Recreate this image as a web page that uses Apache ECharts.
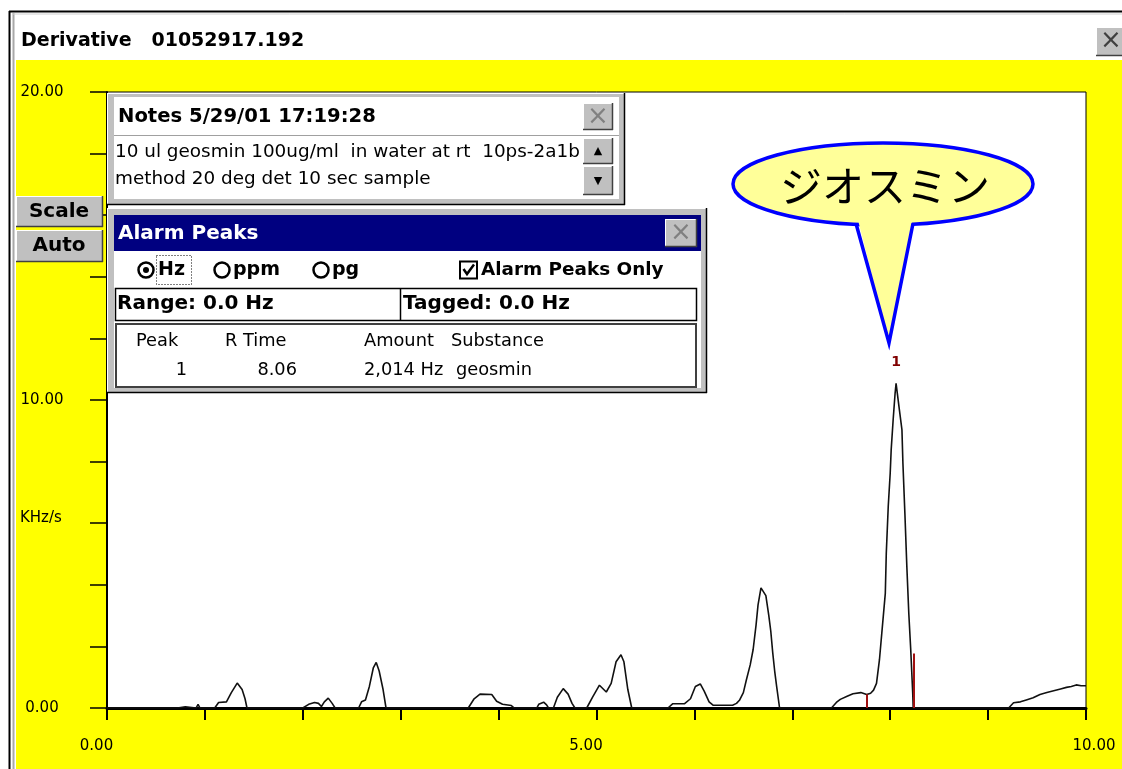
<!DOCTYPE html>
<html>
<head>
<meta charset="utf-8">
<script src="https://cdn.jsdelivr.net/npm/echarts@6/dist/echarts.min.js"></script>
<style>
  html, body { margin: 0; padding: 0; background: #fff; }
  #chart { width: 1122px; height: 769px; }
</style>
</head>
<body>
<div id="chart"></div>
<script>
// retention time (min) of each trace point
const rtime = [
  0, 0.72, 0.73, 0.80, 0.81, 0.91, 0.93, 0.95,
  1.10, 1.14, 1.22, 1.27, 1.33, 1.38, 1.41, 1.43,
  1.73, 1.74, 1.75,
  2.00, 2.06, 2.12, 2.16, 2.19, 2.22, 2.26, 2.30, 2.33,
  2.57, 2.60, 2.64, 2.68, 2.72, 2.75, 2.78, 2.82, 2.85,
  3.69, 3.75, 3.81, 3.93, 3.98, 4.04, 4.13, 4.16,
  4.39, 4.41, 4.46, 4.49, 4.51,
  4.56, 4.60, 4.66, 4.71, 4.75, 4.78,
  4.90, 4.96, 5.03, 5.10, 5.15, 5.20, 5.25, 5.28, 5.32, 5.36,
  5.73, 5.78, 5.90, 5.96, 6.01, 6.06, 6.10, 6.15, 6.19, 6.39,
  6.43, 6.46, 6.50, 6.53, 6.57, 6.60, 6.63, 6.65, 6.68, 6.70, 6.73, 6.76, 6.78, 6.80, 6.82, 6.84, 6.87,
  7.40, 7.45, 7.49, 7.56, 7.62, 7.70, 7.76, 7.80, 7.83, 7.86,
  7.89, 7.92, 7.95, 7.96, 7.98, 8.00, 8.01, 8.03, 8.05, 8.06,
  8.07, 8.09, 8.12, 8.13, 8.15, 8.17, 8.19, 8.21, 8.23, 8.235,
  9.21, 9.26, 9.33, 9.39, 9.46, 9.53, 9.60, 9.67, 9.74, 9.80, 9.85, 9.90, 9.95, 10.00
]
// derivative signal (KHz/s) at those times
const signal = [
  0, 0, 0.04, 0.04, 0, 0, 0.12, 0,
  0, 0.18, 0.20, 0.50, 0.81, 0.60, 0.30, 0,
  0, 0.05, 0,
  0, 0.12, 0.18, 0.15, 0.05, 0.20, 0.32, 0.15, 0,
  0, 0.20, 0.26, 0.70, 1.30, 1.48, 1.20, 0.60, 0,
  0, 0.30, 0.45, 0.44, 0.22, 0.12, 0.08, 0,
  0, 0.12, 0.19, 0.10, 0,
  0, 0.35, 0.63, 0.45, 0.15, 0,
  0, 0.35, 0.74, 0.52, 0.80, 1.50, 1.73, 1.50, 0.60, 0,
  0, 0.14, 0.14, 0.30, 0.70, 0.78, 0.55, 0.20, 0.09, 0.09,
  0.15, 0.25, 0.50, 0.90, 1.40, 1.90, 2.70, 3.35, 3.90, 3.95, 3.65, 3.00, 2.50, 1.80, 1.20, 0.70, 0,
  0, 0.18, 0.28, 0.38, 0.46, 0.50, 0.44, 0.48, 0.58, 0.80,
  1.56, 2.64, 3.72, 5.02, 6.54, 7.62, 8.38, 9.35, 10.22, 10.54,
  10.54, 9.78, 9.03, 7.94, 6.32, 4.59, 3.07, 1.88, 0.48, 0,
  0, 0.17, 0.20, 0.26, 0.33, 0.44, 0.50, 0.56, 0.62, 0.67, 0.70, 0.75, 0.72, 0.72
]

// alarm peak: start/end tag lines and apex
const tagTimes = [7.76, 8.24]
const tagHeights = [0.45, 1.77]
const apexPoint = [8.06, 10.54]
const apexLabel = '1'

// axis labels that are shown
const xLabelValues = [0, 5, 10]
const yLabelValues = [0, 10, 20]

// alarm peaks table
const tablePeak = ['1']
const tableRTime = ['8.06']
const tableAmount = ['2,014 Hz']
const tableSubstance = ['geosmin']

const noteLines = [
  '10 ul geosmin 100ug/ml  in water at rt  10ps-2a1b',
  'method 20 deg det 10 sec sample',
]

const FONT = '"DejaVu Sans", sans-serif'
const GREY = '#c0c0c0'

/** little helpers for the window chrome */
function rect(x, y, w, h, fill, stroke, lw) {
  return {
    type: 'rect', z: 50, silent: true,
    shape: {x: x, y: y, width: w, height: h},
    style: {fill: fill, stroke: stroke || null, lineWidth: lw || 1},
  }
}
function line(x1, y1, x2, y2, color, lw) {
  return {
    type: 'line', z: 51, silent: true,
    shape: {x1: x1, y1: y1, x2: x2, y2: y2},
    style: {stroke: color, lineWidth: lw || 1},
  }
}
function text(x, y, str, size, opts) {
  opts = opts || {}
  return {
    type: 'text', z: opts.z || 52, silent: true, x: x, y: y,
    style: {
      text: str,
      font: (opts.bold ? 'bold ' : '') + size + 'px ' + (opts.family || FONT),
      fill: opts.color || '#000',
      textAlign: opts.align || 'left',
      textVerticalAlign: 'middle',
    },
  }
}
function circle(cx, cy, r, fill, stroke, lw) {
  return {
    type: 'circle', z: 53, silent: true,
    shape: {cx: cx, cy: cy, r: r},
    style: {fill: fill || null, stroke: stroke || null, lineWidth: lw || 1},
  }
}
// raised win95 style button
function button(x, y, w, h) {
  return [
    rect(x, y, w, h, GREY),
    line(x, y + 0.5, x + w, y + 0.5, '#fff', 1),
    line(x + 0.5, y, x + 0.5, y + h, '#fff', 1),
    line(x, y + h - 0.5, x + w, y + h - 0.5, '#404040', 1.5),
    line(x + w - 0.5, y, x + w - 0.5, y + h, '#404040', 1.5),
  ]
}

const chrome = []
// window frame and title bar
chrome.push(rect(0, 0, 1122, 60, '#fff'))
chrome.push(rect(0, 0, 16, 769, '#fff'))
chrome.push(line(9, 11.5, 1122, 11.5, '#000', 2))
chrome.push(line(9.5, 11, 9.5, 769, '#000', 2))
chrome.push(line(13.5, 13, 13.5, 769, '#a8a8a8', 2))
chrome.push(line(12, 14, 1122, 14, '#d0d0d0', 1))
chrome.push(text(21, 41, 'Derivative   01052917.192', 19, {bold: true}))
chrome.push(...button(1096, 27, 30, 29))
chrome.push(text(1111, 41, '×', 26, {color: '#404040', align: 'center'}))

// Scale / Auto buttons
chrome.push(...button(16, 196, 87, 31))
chrome.push(text(59, 212, 'Scale', 20, {bold: true, align: 'center'}))
chrome.push(...button(16, 230, 87, 32))
chrome.push(text(59, 246, 'Auto', 20, {bold: true, align: 'center'}))

// axis unit
chrome.push(text(20, 518, 'KHz/s', 15))

// Notes box
chrome.push(rect(107, 93, 518, 112, GREY))
chrome.push(line(107, 93.5, 625, 93.5, '#fff', 1))
chrome.push(line(107.5, 93, 107.5, 205, '#fff', 1))
chrome.push(line(107, 204.5, 625, 204.5, '#000', 1.5))
chrome.push(line(624.5, 93, 624.5, 205, '#000', 1.5))
chrome.push(rect(114, 97, 505, 102, '#fff'))
chrome.push(line(114, 135.5, 619, 135.5, '#a0a0a0', 1))
chrome.push(text(118, 117, 'Notes 5/29/01 17:19:28', 19.6, {bold: true}))
chrome.push(...button(583, 103, 30, 27))
chrome.push(text(598, 117, '×', 26, {color: '#808080', align: 'center'}))
chrome.push(text(115, 152, noteLines[0], 18.4))
chrome.push(text(115, 179, noteLines[1], 18.4))
chrome.push(...button(583, 138, 30, 26))
chrome.push(text(598, 151, '▲', 11, {align: 'center'}))
chrome.push(...button(583, 166, 30, 29))
chrome.push(text(598, 181, '▼', 11, {align: 'center'}))

// Alarm Peaks box
chrome.push(rect(107, 208, 600, 185, GREY))
chrome.push(line(107, 208.5, 707, 208.5, '#fff', 1))
chrome.push(line(107.5, 208, 107.5, 393, '#fff', 1))
chrome.push(line(107, 392.5, 707, 392.5, '#000', 1.5))
chrome.push(line(706.5, 208, 706.5, 393, '#000', 1.5))
chrome.push(rect(114, 251, 587, 137, '#fff'))
chrome.push(rect(114, 215, 587, 36, '#000080'))
chrome.push(text(118, 234, 'Alarm Peaks', 20, {bold: true, color: '#fff'}))
chrome.push(...button(665, 219, 32, 28))
chrome.push(text(681, 233, '×', 26, {color: '#808080', align: 'center'}))

// unit radio buttons
chrome.push(circle(146, 270, 7.5, null, '#000', 2.5))
chrome.push(circle(146, 270, 3, '#000'))
chrome.push(text(158, 270, 'Hz', 19, {bold: true}))
chrome.push({
  type: 'rect', z: 51, silent: true,
  shape: {x: 156.5, y: 255.5, width: 35, height: 29},
  style: {fill: null, stroke: '#000', lineWidth: 1, lineDash: [1, 2]},
})
chrome.push(circle(222, 270, 7.5, null, '#000', 2.5))
chrome.push(text(233, 270, 'ppm', 19, {bold: true}))
chrome.push(circle(321, 270, 7.5, null, '#000', 2.5))
chrome.push(text(332, 270, 'pg', 19, {bold: true}))
// checkbox
chrome.push({
  type: 'rect', z: 53, silent: true,
  shape: {x: 460, y: 261.5, width: 17, height: 17},
  style: {fill: '#fff', stroke: '#000', lineWidth: 2},
})
chrome.push({
  type: 'polyline', z: 54, silent: true,
  shape: {points: [[463.5, 269], [467, 274], [474, 264.5]]},
  style: {stroke: '#000', lineWidth: 2.5},
})
chrome.push(text(481, 270, 'Alarm Peaks Only', 18.4, {bold: true}))

chrome.push({
  type: 'rect', z: 51, silent: true,
  shape: {x: 115.5, y: 288.5, width: 581, height: 32},
  style: {fill: '#fff', stroke: '#000', lineWidth: 1.5},
})
chrome.push(line(400.5, 288, 400.5, 320, '#000', 1.5))
chrome.push(text(117, 304, 'Range: 0.0 Hz', 20, {bold: true}))
chrome.push(text(403, 304, 'Tagged: 0.0 Hz', 20, {bold: true}))

chrome.push({
  type: 'rect', z: 51, silent: true,
  shape: {x: 116, y: 324, width: 580, height: 63},
  style: {fill: '#fff', stroke: '#404040', lineWidth: 2},
})
chrome.push(text(136, 341, 'Peak', 17.8))
chrome.push(text(225, 341, 'R Time', 17.8))
chrome.push(text(364, 341, 'Amount', 17.8))
chrome.push(text(451, 341, 'Substance', 17.8))
tablePeak.forEach((p, i) => {
  const y = 370 + i * 28
  chrome.push(text(187, y, p, 17.8, {align: 'right'}))
  chrome.push(text(297, y, tableRTime[i], 17.8, {align: 'right'}))
  chrome.push(text(364, y, tableAmount[i], 17.8))
  chrome.push(text(456, y, tableSubstance[i], 17.8))
})

// speech bubble
chrome.push({
  type: 'ellipse', z: 60, silent: true,
  shape: {cx: 883, cy: 184, rx: 150, ry: 41},
  style: {fill: '#ffff99', stroke: '#0000ff', lineWidth: 3.5},
})
chrome.push({
  type: 'polygon', z: 61, silent: true,
  shape: {points: [[857, 216], [913, 216], [889, 343]]},
  style: {fill: '#ffff99'},
})
chrome.push({
  type: 'polyline', z: 62, silent: true,
  shape: {points: [[856, 223.5], [889, 343], [913, 223.5]]},
  style: {stroke: '#0000ff', lineWidth: 3.5, lineJoin: 'miter'},
})
chrome.push(text(885, 186, 'ジオスミン', 42, {align: 'center', z: 65, family: '"Noto Sans CJK JP", sans-serif'}))

const chart = echarts.init(document.getElementById('chart'), null, {renderer: 'canvas'})

const xLabelFont = {fontFamily: 'DejaVu Sans', fontSize: 15, color: '#000'}

chart.setOption({
  animation: false,
  backgroundColor: '#ffff00',
  grid: {
    show: true,
    left: 107,
    top: 92,
    width: 979,
    height: 616,
    backgroundColor: '#fff',
    borderColor: '#000',
    borderWidth: 1,
  },
  xAxis: {
    type: 'value',
    min: 0,
    max: 10,
    interval: 1,
    axisLine: {lineStyle: {color: '#000', width: 3}},
    axisTick: {show: true, inside: false, length: 12, lineStyle: {color: '#000', width: 2}},
    axisLabel: {
      margin: 31,
      ...xLabelFont,
      showMinLabel: true,
      showMaxLabel: true,
      formatter: v => {
        if (!xLabelValues.includes(v)) return ''
        // the old screen draws these labels a bit off-centre
        return (v === 10 ? '{r|' : '{l|') + v.toFixed(2) + '}'
      },
      rich: {
        l: {...xLabelFont, padding: [0, 21, 0, 0]},
        r: {...xLabelFont, padding: [0, 0, 0, 16]},
      },
    },
    splitLine: {show: false},
  },
  yAxis: {
    type: 'value',
    min: 0,
    max: 20,
    interval: 2,
    axisLine: {show: true, lineStyle: {color: '#000', width: 2}},
    axisTick: {show: true, inside: false, length: 17, lineStyle: {color: '#000', width: 1.5}},
    axisLabel: {
      margin: 65,
      align: 'center',
      fontFamily: 'DejaVu Sans',
      fontSize: 15,
      color: '#000',
      verticalAlign: 'middle',
      padding: [0, 0, 8, 0],
      formatter: v => (yLabelValues.includes(v) ? v.toFixed(2) : ''),
    },
    splitLine: {show: false},
  },
  series: [
    {
      type: 'line',
      data: rtime.map((t, i) => [t, signal[i]]),
      symbol: 'none',
      lineStyle: {color: '#111', width: 1.6},
      z: 3,
      markLine: {
        silent: true,
        symbol: ['none', 'none'],
        label: {show: false},
        lineStyle: {color: '#a01010', width: 2, type: 'solid'},
        data: tagTimes.map((t, i) => [{coord: [t, 0]}, {coord: [t, tagHeights[i]]}]),
      },
      markPoint: {
        silent: true,
        symbol: 'circle',
        symbolSize: 1,
        itemStyle: {color: 'rgba(0,0,0,0)'},
        label: {
          show: true,
          position: 'top',
          distance: 14,
          formatter: apexLabel,
          color: '#800000',
          fontWeight: 'bold',
          fontSize: 14,
          fontFamily: 'DejaVu Sans',
        },
        data: [{coord: apexPoint}],
      },
    },
  ],
  graphic: chrome,
})
</script>
</body>
</html>
